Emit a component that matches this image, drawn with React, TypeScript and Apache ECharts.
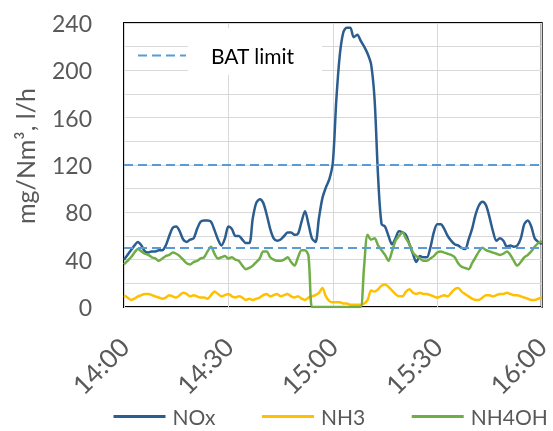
import React, { useEffect, useRef } from "react";
import * as echarts from "echarts";

// Tick labels of the time axis (every 30 minutes) and the minute step between them
const TIME_TICKS = ["14:00", "14:30", "15:00", "15:30", "16:00"];
const TICK_STEP_MIN = 30;

// One reading per minute from 14:00 to 16:00 (121 samples)
const NOX = [
  40, 44, 48, 52, 55, 52, 47, 46, 47, 47,
  48, 48, 52, 60, 67, 68, 64, 57, 55, 57,
  58, 66, 72, 73, 73, 72, 65, 57, 52, 58,
  68, 66, 60, 60, 57, 54, 54, 75, 88, 91,
  88, 78, 66, 58, 56, 57, 60, 63, 63, 61,
  62, 72, 81, 70, 58, 55, 75, 92, 101, 108,
  122, 175, 213, 232, 236, 236, 228, 230, 225, 220,
  214, 205, 175, 110, 70, 68, 60, 53, 58, 64,
  63, 61, 53, 45, 38, 43, 42, 42, 50, 63,
  70, 70, 66, 60, 56, 53, 52, 50, 49, 57,
  66, 78, 86, 89, 86, 76, 64, 56, 58, 56,
  51, 52, 51, 52, 58, 70, 73, 68, 58, 55,
  53,
];

const NH3 = [
  10, 8, 6, 7, 9, 10, 11, 11, 10, 9,
  8, 7, 8, 10, 9, 8, 10, 12, 11, 9,
  10, 9, 8, 8, 7, 10, 13, 11, 9, 10,
  11, 9, 8, 9, 8, 6, 7, 6, 7, 8,
  10, 11, 9, 10, 11, 9, 10, 11, 9, 8,
  9, 7, 6, 8, 9, 10, 12, 16, 9, 5,
  4, 4, 4, 3, 3, 2, 2, 2, 2, 3,
  6, 14, 13, 15, 18, 19, 17, 14, 11, 9,
  9, 13, 15, 12, 11, 12, 11, 11, 10, 9,
  8, 9, 10, 9, 12, 15, 16, 13, 11, 9,
  7, 6, 6, 8, 10, 10, 9, 10, 11, 11,
  12, 11, 10, 10, 9, 8, 7, 6, 6, 7,
  8,
];

const NH4OH = [
  36, 39, 42, 46, 49, 47, 45, 44, 42, 41,
  39, 41, 43, 44, 46, 45, 43, 40, 37, 36,
  38, 39, 41, 42, 47, 51, 45, 41, 42, 43,
  41, 42, 40, 39, 35, 32, 33, 35, 38, 41,
  47, 47, 42, 40, 39, 39, 40, 42, 38, 35,
  42, 48, 48, 43, 0, 0, 0, 0, 0, 0,
  0, 0, 0, 0, 0, 0, 0, 0, 0, 35,
  61, 57, 58, 52, 48, 44, 39, 47, 56, 60,
  63, 58, 53, 46, 43, 41, 39, 39, 41, 43,
  46, 47, 46, 45, 44, 42, 37, 34, 33, 32,
  37, 42, 47, 50, 48, 47, 46, 45, 44, 45,
  47, 44, 39, 35, 38, 42, 44, 47, 51, 54,
  56,
];

const BAT_LIMITS = [120, 50];

const FONT = "Lato, 'Open Sans', sans-serif";
const GRAY = "#595959";
const GRID_COLOR = "#d9d9d9";

export default function App() {
  const ref = useRef<HTMLDivElement>(null);

  useEffect(() => {
    const chart = echarts.init(ref.current!, null, { renderer: "svg" });
    const pairs = (arr: number[]) => arr.map((v, i) => [i, v]);
    const lastMin = (TIME_TICKS.length - 1) * TICK_STEP_MIN;

    chart.setOption({
      animation: false,
      textStyle: { fontFamily: FONT },
      grid: {
        left: 124,
        right: 6,
        top: 23,
        bottom: 124,
        show: true,
        borderColor: "#000",
        borderWidth: 2,
        backgroundColor: "transparent",
      },
      graphic: [
        {
          type: "rect",
          left: 188,
          top: 28,
          z: 1,
          shape: { width: 134, height: 47 },
          style: { fill: "#fff" },
          silent: true,
        },
      ],
      xAxis: {
        type: "value",
        min: 0,
        max: lastMin,
        interval: TICK_STEP_MIN,
        axisLine: { show: false },
        axisTick: { show: false },
        splitLine: { show: true, lineStyle: { color: GRID_COLOR, width: 1 } },
        axisLabel: {
          rotate: 45,
          fontSize: 26,
          color: GRAY,
          margin: 35,
          fontFamily: FONT,
          formatter: (v: number) => TIME_TICKS[Math.round(v / TICK_STEP_MIN)] ?? "",
        },
      },
      yAxis: {
        type: "value",
        min: 0,
        max: 240,
        interval: 40,
        axisLine: { show: false },
        axisTick: { show: false },
        splitLine: { show: true, lineStyle: { color: GRID_COLOR, width: 1 } },
        minorTick: { show: false, splitNumber: 2 },
        minorSplitLine: { show: true, lineStyle: { color: GRID_COLOR, width: 1 } },
        axisLabel: { fontSize: 23, color: GRAY, margin: 32, fontFamily: FONT },
        name: "mg/Nm³, l/h",
        nameLocation: "middle",
        nameGap: 87,
        nameTextStyle: { fontSize: 25, color: GRAY, fontFamily: FONT, padding: [0, 0, 0, 18] },
      },
      legend: [
        {
          data: ["NOx", "NH3", "NH4OH"],
          left: 107,
          top: 401,
          itemWidth: 52,
          itemHeight: 14,
          itemGap: 45,
          itemStyle: { opacity: 0 },
          lineStyle: { width: 3 },
          textStyle: { fontSize: 21, color: GRAY, fontFamily: FONT, padding: [0, 0, 0, 2] },
        },
        {
          data: ["BAT limit"],
          left: 132,
          top: 40,
          itemWidth: 48,
          itemHeight: 14,
          itemStyle: { opacity: 0 },
          textStyle: { fontSize: 21, color: "#000", fontFamily: FONT, padding: [0, 0, 0, 20] },
        },
      ],
      series: [
        {
          name: "BAT limit",
          type: "line",
          data: [],
          symbol: "none",
          itemStyle: { color: "#5b9bd5" },
          lineStyle: { color: "#5b9bd5", width: 2, type: [9, 5] },
          markLine: {
            silent: true,
            symbol: "none",
            label: { show: false },
            lineStyle: { color: "#5b9bd5", width: 2, type: [9, 5] },
            data: BAT_LIMITS.map((v) => ({ yAxis: v })),
          },
        },
        {
          name: "NOx",
          type: "line",
          data: pairs(NOX),
          symbol: "none",
          smooth: 0.3,
          itemStyle: { color: "#2b5d8e" },
          lineStyle: { color: "#2b5d8e", width: 2.5 },
        },
        {
          name: "NH3",
          type: "line",
          data: pairs(NH3),
          symbol: "none",
          smooth: 0.3,
          itemStyle: { color: "#ffc000" },
          lineStyle: { color: "#ffc000", width: 2.5 },
        },
        {
          name: "NH4OH",
          type: "line",
          data: pairs(NH4OH),
          symbol: "none",
          smooth: 0.3,
          itemStyle: { color: "#70ad47" },
          lineStyle: { color: "#70ad47", width: 2.5 },
        },
      ],
    });

    return () => chart.dispose();
  }, []);

  return (
    <div
      ref={ref}
      style={{ position: "fixed", left: 0, top: 0, width: 553, height: 431 }}
    />
  );
}
